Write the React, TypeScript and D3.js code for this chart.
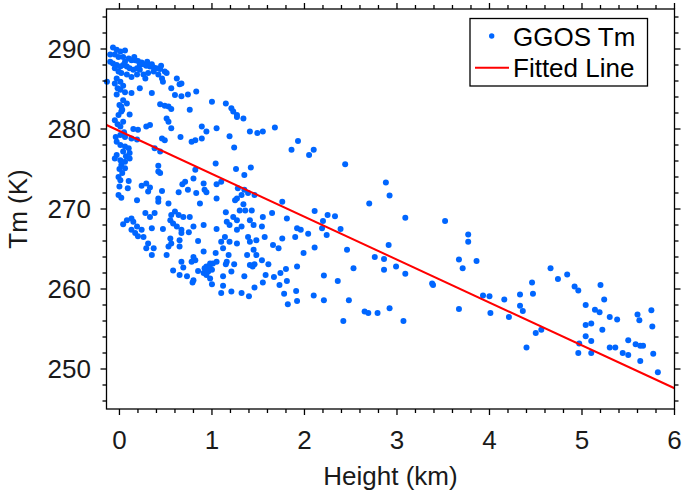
import React from "react";
import * as d3 from "d3";

const xTickValues = [0, 1, 2, 3, 4, 5, 6];
const yTickValues = [250, 260, 270, 280, 290];
const xDomain: [number, number] = [-0.14, 6];
const yDomain: [number, number] = [245, 295];
const xLabel = "Height (km)";
const yLabel = "Tm (K)";
const seriesNames = ["GGOS Tm", "Fitted Line"];
const fitIntercept = 279.75;
const fitSlope = -5.36;

// [height km, Tm K]
const ggosTm: [number, number][] = [
  [-0.07, 290.2], [-0.03, 289.9], [0.01, 289.7], [0.06, 289.8], [-0.1, 289.3], [-0.05, 289.3],
  [-0.01, 289.0], [0.04, 289.0], [0.1, 288.8], [0.13, 288.6], [0.17, 288.6], [0.2, 288.5],
  [0.24, 288.3], [0.26, 288.1], [0.29, 287.9], [0.33, 287.8], [0.37, 287.7], [0.4, 287.6],
  [0.44, 287.5], [0.49, 287.2], [0.51, 287.0], [-0.1, 288.4], [-0.07, 288.2], [-0.03, 288.0],
  [0.01, 287.8], [0.04, 288.0], [0.08, 287.8], [0.11, 287.6], [0.15, 287.4], [0.19, 287.6],
  [0.22, 287.4], [-0.05, 287.6], [-0.01, 287.2], [0.02, 287.0], [0.08, 286.8], [0.13, 286.5],
  [0.19, 286.8], [0.26, 286.8], [0.31, 287.0], [0.37, 287.2], [0.42, 286.8], [0.46, 286.3],
  [0.47, 285.9], [-0.135, 285.9], [-0.03, 286.3], [0.01, 285.9], [-0.05, 285.7], [0.04, 285.4],
  [0.01, 284.9], [-0.03, 284.3], [0.22, 285.1], [0.35, 284.5], [0.13, 284.5], [0.28, 286.3],
  [0.62, 286.3], [0.67, 285.7], [0.65, 285.6], [0.56, 285.1], [0.6, 284.25], [0.67, 284.1],
  [0.74, 284.3], [0.83, 284.7], [0.04, 283.6], [0.08, 283.2], [0.02, 282.8], [0.44, 283.1],
  [0.49, 282.9], [0.53, 282.8], [0.56, 282.5], [0.76, 282.4], [1.0, 283.4],
  [0.16, 289.0], [0.3, 288.4], [0.35, 288.1], [0.45, 287.9], [0.22, 288.0], [0.06, 288.4],
  [0.0, 283.0], [0.03, 282.4], [-0.02, 280.6], [0.05, 279.6], [-0.04, 279.0], [0.07, 276.6],
  [0.0, 275.0], [0.03, 274.5], [0.09, 272.6], [0.0, 272.8], [-0.02, 285.1], [0.06, 284.6],
  [1.15, 283.2], [1.21, 282.6], [1.23, 282.2], [1.27, 281.75], [1.27, 281.5], [1.34, 281.3],
  [1.05, 280.1], [1.19, 279.1], [1.41, 279.7], [1.49, 279.5], [1.55, 279.7], [1.68, 280.2],
  [0.02, 282.2], [-0.01, 281.75], [-0.05, 281.1], [0.04, 280.9], [0.01, 280.3], [0.11, 281.8],
  [0.15, 280.0], [0.2, 279.9], [0.29, 280.3], [0.33, 280.5], [0.51, 281.3], [0.53, 280.9],
  [0.56, 280.1], [0.89, 280.3], [0.94, 279.7], [0.01, 279.25], [0.06, 279.0], [0.13, 278.8],
  [0.19, 278.7], [-0.03, 278.4], [0.01, 278.0], [0.06, 277.8], [0.1, 277.6], [0.04, 277.2],
  [0.11, 277.0], [-0.03, 276.75], [-0.05, 276.3], [0.01, 276.1], [0.06, 275.9], [0.11, 276.3],
  [0.02, 275.5], [0.06, 275.1], [0.46, 278.8], [0.49, 278.6], [0.38, 277.6], [0.44, 277.2],
  [0.66, 279.0], [0.82, 278.6], [0.78, 278.4], [0.89, 278.8], [0.42, 275.4], [0.44, 274.5],
  [0.42, 274.7], [0.82, 274.9], [0.8, 273.8], [0.71, 273.4], [0.68, 273.1], [-0.01, 274.0],
  [0.01, 273.6], [0.1, 273.5], [0.24, 272.9], [0.29, 273.2], [0.33, 272.7], [0.31, 272.2],
  [0.46, 272.25], [0.64, 272.1], [0.74, 272.4], [0.83, 272.0], [0.92, 272.4], [-0.01, 271.75],
  [0.02, 271.4], [0.19, 271.1], [0.42, 271.3], [0.53, 270.7], [0.87, 270.7], [0.91, 273.2],
  [1.24, 277.7], [1.04, 275.7], [1.26, 275.0], [1.35, 274.25], [1.42, 275.2],
  [1.05, 273.1], [1.1, 273.4], [1.28, 272.6], [1.35, 272.4], [1.39, 272.0], [1.46, 271.75],
  [0.94, 272.1], [1.27, 271.3], [1.25, 271.1], [1.32, 271.75], [1.34, 270.6], [1.76, 270.9],
  [1.15, 269.6], [1.3, 269.8], [1.36, 269.8], [1.43, 269.8], [1.65, 269.5], [0.04, 268.1],
  [0.08, 268.6], [0.13, 268.8], [0.15, 268.4], [0.19, 267.8], [0.13, 267.4], [0.17, 267.0],
  [0.24, 267.4], [0.26, 266.5], [0.2, 266.6], [0.28, 269.5], [0.33, 269.0], [0.38, 269.5],
  [0.35, 267.6], [0.31, 265.7], [0.37, 265.1], [0.29, 265.1], [0.35, 264.25], [0.55, 268.6],
  [0.6, 269.7], [0.56, 269.25], [0.64, 269.25], [0.69, 269.0], [0.76, 269.0], [0.58, 268.2],
  [0.67, 267.4], [0.67, 267.0], [0.62, 267.8], [0.75, 267.1], [0.47, 267.5], [0.55, 266.3],
  [0.56, 265.7], [0.53, 265.3], [0.65, 265.3], [0.51, 264.25], [0.67, 263.4], [0.8, 264.0],
  [0.82, 263.6], [0.85, 266.0], [0.8, 267.8], [0.91, 268.0], [1.05, 267.5], [1.16, 268.4],
  [1.19, 268.0], [1.23, 269.0], [1.27, 268.6], [1.32, 267.8], [1.41, 268.6], [1.45, 268.0],
  [1.55, 269.0], [1.54, 267.8], [1.14, 266.5], [1.19, 265.9], [1.1, 265.9], [1.12, 265.1],
  [1.04, 264.5], [1.18, 264.25], [1.16, 263.4], [1.27, 265.7], [1.39, 266.5], [1.41, 265.9],
  [1.48, 266.1], [1.57, 266.5], [1.66, 265.5], [1.72, 265.1], [1.76, 266.3], [1.45, 264.9],
  [1.38, 264.25], [1.48, 264.25], [1.54, 263.6], [1.41, 263.0], [0.94, 262.8], [0.98, 263.2],
  [0.98, 262.6], [1.81, 268.8], [0.42, 270.9], [1.05, 271.3], [1.27, 267.4], [0.65, 266.1],
  [0.91, 264.7], [1.21, 262.2],
  [0.58, 262.3], [0.65, 261.75], [0.69, 262.7], [0.73, 261.6], [0.8, 261.1], [0.79, 260.8],
  [0.85, 262.25], [0.78, 263.4], [0.92, 262.6], [0.96, 262.2], [0.94, 261.75], [0.98, 261.3],
  [1.0, 260.6], [1.0, 262.4], [1.01, 263.2], [1.05, 263.4], [1.12, 261.6], [1.12, 260.4],
  [1.1, 259.5], [1.15, 263.1], [1.21, 259.7], [1.24, 263.1], [1.32, 259.5], [1.35, 261.6],
  [1.4, 259.1], [1.44, 262.8], [1.46, 263.1], [1.46, 260.2], [1.55, 260.8], [1.58, 261.75],
  [1.61, 263.1], [1.67, 261.5], [1.73, 260.5], [1.74, 262.0], [1.78, 259.4], [1.8, 262.5],
  [1.81, 261.0], [1.82, 258.1], [0.91, 262.0],
  [1.92, 267.6], [1.9, 266.5], [1.92, 262.8], [1.91, 259.75], [1.92, 258.5],
  [1.93, 278.5], [1.86, 277.4], [2.1, 277.4], [2.05, 276.75], [2.44, 275.6], [2.88, 273.3],
  [2.92, 271.7], [2.7, 270.7], [2.11, 269.75], [2.2, 268.5], [2.25, 269.25], [2.33, 269.1],
  [2.19, 267.6], [2.24, 266.75], [2.39, 267.5], [1.96, 267.4], [2.04, 266.9], [1.99, 264.5],
  [2.11, 265.2], [2.46, 264.9], [3.09, 268.9], [3.52, 268.5], [3.77, 266.8], [3.77, 265.9],
  [2.91, 265.5], [2.76, 264.0], [2.86, 263.75], [2.86, 262.4], [2.99, 262.8], [3.09, 261.9],
  [2.53, 262.6], [2.1, 259.2], [2.21, 261.7], [2.21, 258.6], [2.36, 261.0], [2.48, 258.6],
  [2.42, 256.0], [2.65, 257.2], [2.69, 257.0], [2.79, 257.0], [2.92, 257.6], [3.07, 256.0],
  [3.38, 260.7], [3.39, 260.5], [3.67, 263.7], [3.71, 262.6], [3.86, 263.5], [3.67, 257.5],
  [3.93, 259.2], [4.0, 259.1], [4.01, 257.0], [4.16, 258.7], [4.21, 256.5], [4.33, 259.3],
  [4.33, 257.9], [4.36, 257.25], [4.46, 260.8], [4.47, 259.4], [4.4, 252.7], [4.5, 254.5],
  [4.56, 254.9], [4.66, 262.6], [4.74, 261.25], [4.84, 261.8], [4.92, 260.3], [4.96, 259.8],
  [5.04, 258.0], [5.04, 255.5], [5.1, 255.7], [5.2, 260.5], [5.24, 258.7], [5.14, 257.4],
  [5.19, 257.1], [5.3, 256.5], [5.38, 256.2], [5.22, 254.9], [5.04, 254.1], [5.1, 253.5],
  [4.97, 253.2], [4.96, 252.0], [5.1, 252.0], [5.3, 252.7], [5.36, 252.7], [5.44, 252.0],
  [5.5, 251.75], [5.5, 253.6], [5.58, 253.1], [5.63, 252.9], [5.66, 252.9], [5.6, 256.8],
  [5.62, 256.1], [5.63, 251.0], [5.75, 257.35], [5.76, 255.3], [5.77, 251.9], [5.82, 249.6],
];

const FONT = "'Liberation Sans', Arial, Helvetica, sans-serif";
const BLUE = "#0066ff";
const RED = "#ff0000";

export default function App() {
  const W = 685;
  const H = 496;
  const x = d3.scaleLinear().domain(xDomain).range([106.5, 674.5]);
  const y = d3.scaleLinear().domain(yDomain).range([409, 9]);
  const [x0, x1] = x.range();
  const [yb, yt] = y.range();

  const xMinor = d3.range(0, 6.0001, 0.2).map((v) => +v.toFixed(2));
  const yMinor = d3.range(246, 295, 2);
  const isXMajor = (v: number) => Math.abs(v - Math.round(v)) < 1e-6;
  const isYMajor = (v: number) => v % 10 === 0;

  const fitLine = d3
    .line<number>()
    .x((h) => x(h))
    .y((h) => y(fitIntercept + fitSlope * h));

  const tickMajor = 6;
  const tickMinor = 4;
  const ax = { stroke: "#000", strokeWidth: 1.3 };

  return (
    <svg
      width={W}
      height={H}
      style={{ position: "absolute", left: 0, top: 0, background: "#fff" }}
      fontFamily={FONT}
    >
      <rect x={0} y={0} width={W} height={H} fill="#fff" />
      <g>
        {ggosTm.map(([h, t], i) => (
          <circle key={i} cx={x(h)} cy={y(t)} r={3} fill={BLUE} />
        ))}
      </g>
      <path d={fitLine(xDomain) || ""} stroke={RED} strokeWidth={2} fill="none" />

      <rect x={x0} y={yt} width={x1 - x0} height={yb - yt} fill="none" {...ax} />

      {xMinor.map((v) => {
        const len = isXMajor(v) ? tickMajor : tickMinor;
        const px = x(v);
        return (
          <g key={"xt" + v}>
            <line x1={px} x2={px} y1={yb} y2={yb + len} {...ax} />
            <line x1={px} x2={px} y1={yt} y2={yt - len} {...ax} />
          </g>
        );
      })}
      {yMinor.map((v) => {
        const len = isYMajor(v) ? tickMajor : tickMinor;
        const py = y(v);
        return (
          <g key={"yt" + v}>
            <line x1={x0} x2={x0 - len} y1={py} y2={py} {...ax} />
            <line x1={x1} x2={x1 + len} y1={py} y2={py} {...ax} />
          </g>
        );
      })}

      {xTickValues.map((v) => (
        <text key={"xl" + v} x={x(v)} y={449} textAnchor="middle" fontSize={26} fill="#1a1a1a">
          {v}
        </text>
      ))}
      {yTickValues.map((v) => (
        <text key={"yl" + v} x={91} y={y(v) + 9.3} textAnchor="end" fontSize={26} fill="#1a1a1a">
          {v}
        </text>
      ))}

      <text x={(x0 + x1) / 2} y={485} textAnchor="middle" fontSize={26} fill="#1a1a1a">
        {xLabel}
      </text>
      <text
        transform={`translate(27,${(yt + yb) / 2}) rotate(-90)`}
        textAnchor="middle"
        fontSize={26}
        fill="#1a1a1a"
      >
        {yLabel}
      </text>

      <g>
        <rect x={470} y={18.5} width={177.5} height={67.5} fill="#fff" stroke="#000" strokeWidth={1.3} />
        <circle cx={491.7} cy={36} r={2.7} fill={BLUE} />
        <text x={513} y={46} fontSize={26} fill="#000">
          {seriesNames[0]}
        </text>
        <line x1={475} x2={509} y1={67.7} y2={67.7} stroke={RED} strokeWidth={2} />
        <text x={513} y={77.3} fontSize={26} fill="#000">
          {seriesNames[1]}
        </text>
      </g>
    </svg>
  );
}
